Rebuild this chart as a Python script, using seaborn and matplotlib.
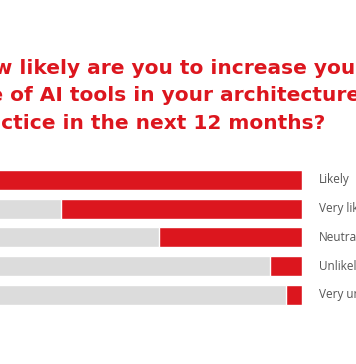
import pandas as pd
import matplotlib
matplotlib.use("Agg")
import matplotlib.pyplot as plt
import seaborn as sns

# survey answers, share of respondents (%)
answers = ["Likely", "Very likely", "Neutral", "Unlikely", "Very unlikely"]
shares = [42.6, 32.0, 19.0, 4.3, 2.1]
full = [100, 100, 100, 100, 100]

title_lines = ["How likely are you to increase your",
               "use of AI tools in your architecture",
               "practice in the next 12 months?"]

RED = "#dc161e"
GREY = "#dcdcdc"

df = pd.DataFrame({"answer": answers, "share": shares, "full": full})

sns.set_style("white")
plt.rcParams["font.family"] = ["DejaVu Sans"]

fig = plt.figure(figsize=(3.56, 3.64), dpi=100)
# the picture is a crop: the bars run far off the left edge
ax = fig.add_axes([-1.267, 0.151, 2.115, 0.394])

sns.barplot(data=df, x="full", y="answer", color=GREY, orient="h",
            width=0.7, saturation=1, ax=ax)
sns.barplot(data=df, x="share", y="answer", color=RED, orient="h",
            width=0.7, saturation=1, ax=ax)

ax.set_xlim(100, 0)
ax.set_ylim(4.5, -0.5)
ax.axis("off")

for i, a in enumerate(answers):
    ax.annotate(a, xy=(0, i), xytext=(12, 0), textcoords="offset points",
                va="center", ha="left", fontsize=8.5, color="#555555",
                family=["Open Sans", "DejaVu Sans"],
                annotation_clip=False)

base_y = [74, 101, 129]
for line, y in zip(title_lines, base_y):
    fig.text(-37 / 356, 1 - y / 364, line, ha="left", va="baseline",
             fontsize=14.5, fontweight="bold", color=RED)

fig.savefig("out.png", dpi=100)
